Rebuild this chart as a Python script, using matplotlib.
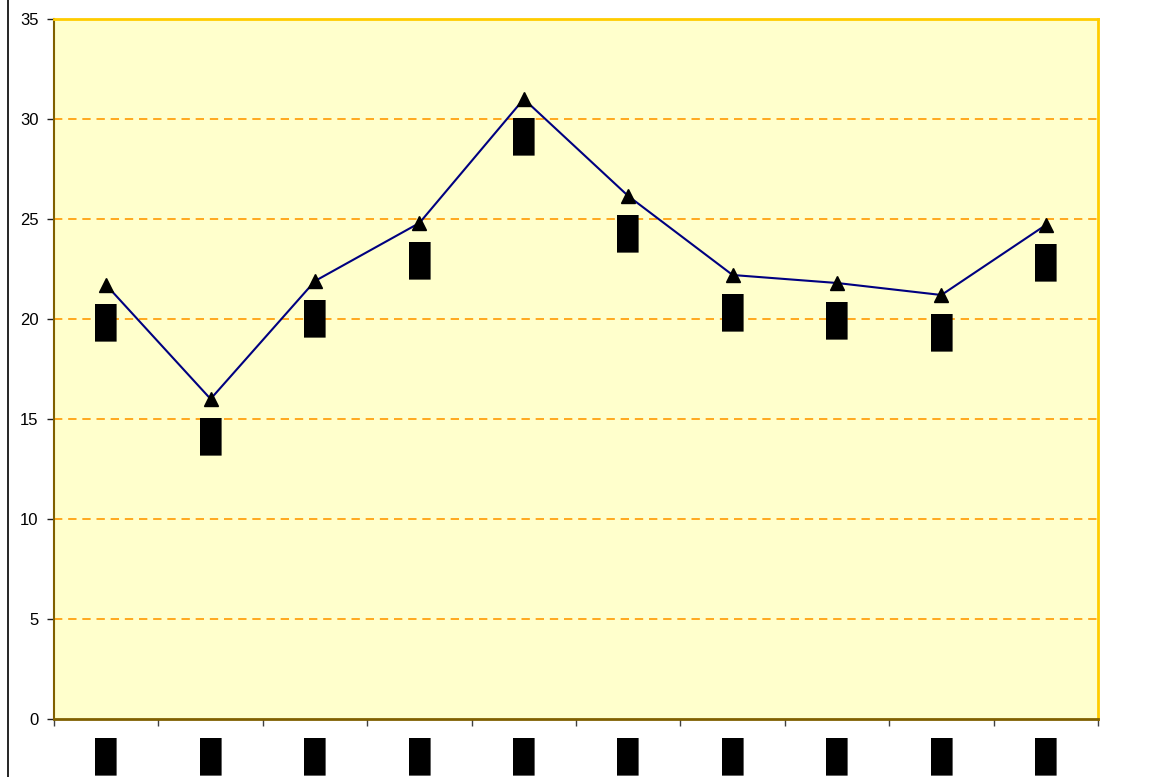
import matplotlib
import numpy as np

matplotlib.use("Agg")

from matplotlib import pyplot as plt
from matplotlib.lines import Line2D

# category names and data labels are unreadable in the reference (solid boxes)
categories = ["█", "█", "█", "█", "█", "█", "█", "█", "█", "█"]
values = [21.7, 16.0, 21.9, 24.8, 31.0, 26.15, 22.2, 21.8, 21.2, 24.7]
point_labels = ["█", "█", "█", "█", "█", "█", "█", "█", "█", "█"]
y_ticks = [0, 5, 10, 15, 20, 25, 30, 35]

W, H = 1170, 777


def main() -> None:
    fig = plt.figure(figsize=(W / 100, H / 100), dpi=100)
    ax = fig.add_axes([54 / W, (H - 719) / H, 1044 / W, 700 / H])
    ax.set_facecolor("#FFFFCC")

    x = np.arange(len(values)) + 0.5
    ax.plot(x, values, color="#000080", linewidth=1.5, marker="^", markersize=10,
            markerfacecolor="black", markeredgecolor="black", zorder=3)

    for xi, yi, label in zip(x, values, point_labels):
        ax.annotate(label, xy=(xi, yi), xytext=(0, -13), textcoords="offset points",
                    ha="center", va="top", fontsize=22, family="Liberation Sans", color="black")

    ax.set_xlim(0, len(values))
    ax.set_ylim(0, 35)
    ax.set_yticks(y_ticks)
    ax.set_yticklabels([str(t) for t in y_ticks], family="Liberation Sans", fontsize=12)
    ax.set_xticks(np.arange(len(values) + 1))
    ax.set_xticklabels([])
    ax.set_xticks(x, minor=True)
    ax.set_xticklabels(categories, minor=True, fontsize=22, family="Liberation Sans")
    ax.tick_params(axis="x", which="major", length=5, color="#404040", width=1)
    ax.tick_params(axis="x", which="minor", length=0, pad=13)
    ax.tick_params(axis="y", length=5, width=1, pad=6, color="#202020")

    for t in y_ticks[1:-1]:
        ax.axhline(t, color="#FF9900", linewidth=1.2, linestyle=(0, (5, 3.5)), zorder=1)

    ax.spines["left"].set_color("#806000")
    ax.spines["bottom"].set_color("#806000")
    ax.spines["left"].set_linewidth(1.5)
    ax.spines["bottom"].set_linewidth(2)
    ax.spines["top"].set_color("#FFCC00")
    ax.spines["right"].set_color("#FFCC00")
    ax.spines["top"].set_linewidth(2)
    ax.spines["right"].set_linewidth(2)

    fig.add_artist(Line2D([8 / W, 8 / W], [0, 1], color="black", linewidth=1.2))

    fig.savefig("out.png", dpi=100)
    plt.close(fig)


if __name__ == "__main__":
    main()
